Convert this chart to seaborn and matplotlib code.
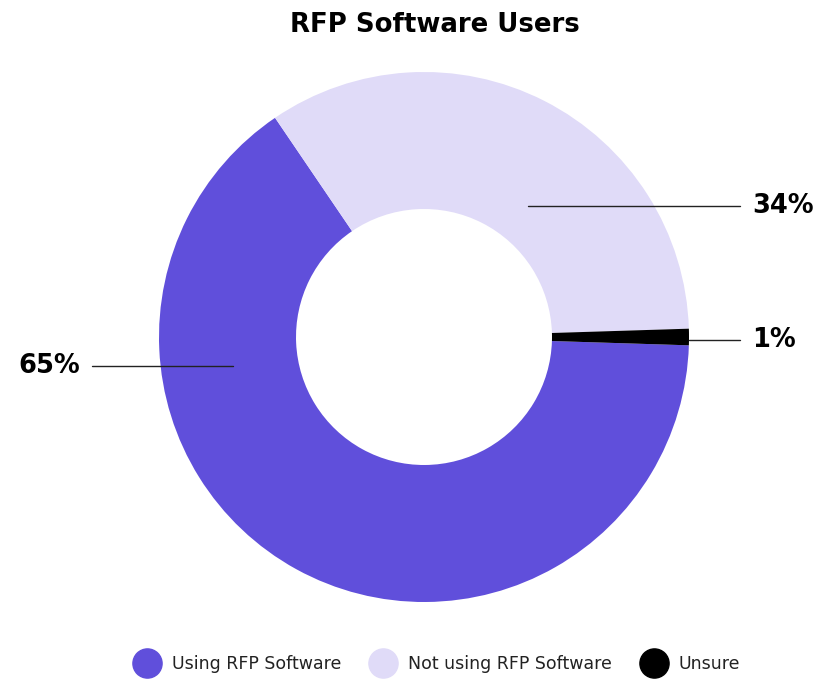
import numpy as np
import matplotlib.pyplot as plt
import seaborn as sns
from matplotlib.lines import Line2D

sns.set_theme(style='white')
plt.rcParams['font.family'] = ['DejaVu Sans']

# data
labels = ['Using RFP Software', 'Not using RFP Software', 'Unsure']
values = [65, 34, 1]
colors = ['#604FDB', '#E0DBF8', '#000000']
pct_text = ['65%', '34%', '1%']

fig = plt.figure(figsize=(8.17, 6.79), dpi=100)
# donut centred at (424, 337) px, outer radius 265 px
ax = fig.add_axes([159 / 817, 77 / 679, 530 / 817, 530 / 679])

wedges, _ = ax.pie(values, colors=colors, startangle=-1.8, counterclock=False,
                   radius=1.0, wedgeprops=dict(width=0.517, edgecolor='none'))
ax.set_xlim(-1, 1)
ax.set_ylim(-1, 1)
ax.set_aspect('equal')
ax.axis('off')

# leader lines and labels (axes data units, radius = 1)
ax.plot([-1.253, -0.721], [-0.109, -0.109], color='#222222', lw=1, clip_on=False)
ax.text(-1.298, -0.109, pct_text[0], ha='right', va='center', fontsize=18.5,
        fontweight='bold', color='black')
ax.plot([0.392, 1.192], [0.494, 0.494], color='#222222', lw=1, clip_on=False)
ax.text(1.238, 0.494, pct_text[1], ha='left', va='center', fontsize=18.5,
        fontweight='bold', color='black')
ax.plot([1.0, 1.192], [-0.011, -0.011], color='#222222', lw=1, clip_on=False)
ax.text(1.238, -0.011, pct_text[2], ha='left', va='center', fontsize=18.5,
        fontweight='bold', color='black')

fig.text(435 / 817, 1 - 25 / 679, 'RFP Software Users', ha='center', va='center',
         fontsize=18.7, fontweight='heavy', color='black')

handles = [Line2D([0], [0], linestyle='none', marker='o', markersize=21,
                  markerfacecolor=c, markeredgecolor=c) for c in colors]
fig.legend(handles, labels, loc='center', bbox_to_anchor=(435 / 817, 1 - 664 / 679),
           ncol=3, frameon=False, fontsize=12.5, handletextpad=0.45,
           columnspacing=1.4, labelcolor='#222222')

fig.savefig('out.png', dpi=100, facecolor='white')
